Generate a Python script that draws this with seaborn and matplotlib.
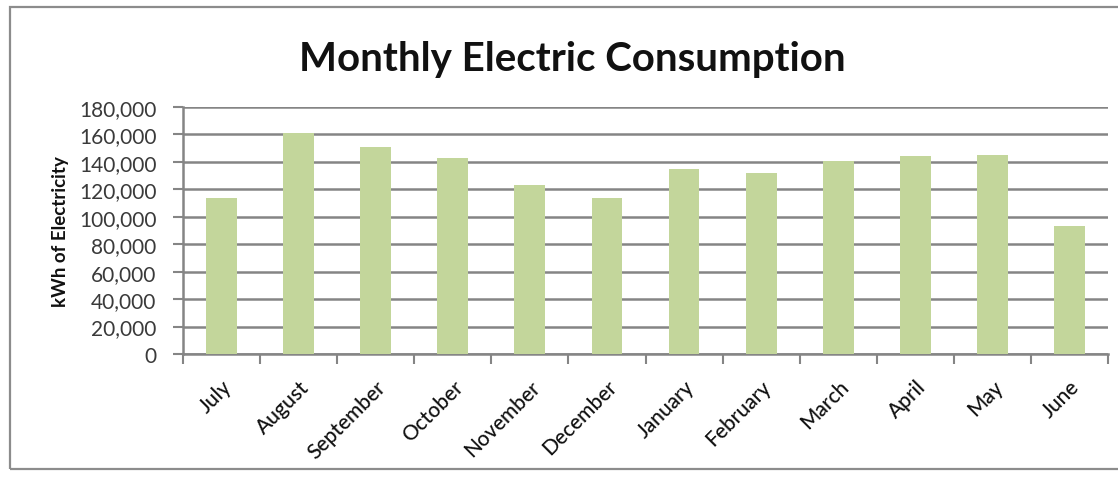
import matplotlib
matplotlib.use("Agg")
import matplotlib.pyplot as plt
from matplotlib.patches import Rectangle
from matplotlib.ticker import FuncFormatter, FixedLocator
import seaborn as sns
import pandas as pd

months = ["July", "August", "September", "October", "November", "December",
          "January", "February", "March", "April", "May", "June"]
kwh = [113700, 160800, 151100, 142800, 123400, 113700,
       135000, 132100, 140400, 144500, 145200, 93500]
y_ticks = [0, 20000, 40000, 60000, 80000, 100000, 120000, 140000, 160000, 180000]

df = pd.DataFrame({"month": months, "kwh": kwh})

sns.set_theme(style="white")
plt.rcParams["font.family"] = ["Lato", "DejaVu Sans"]

fig = plt.figure(figsize=(11.18, 4.81), dpi=100)
ax = fig.add_axes([183 / 1118, 1 - 355 / 481, (1108 - 183) / 1118, (355 - 108) / 481])

sns.barplot(data=df, x="month", y="kwh", color="#c3d69b", saturation=1,
            width=0.4, linewidth=0, ax=ax, zorder=3)

ax.set_ylim(0, 180000)
ax.set_xlim(-0.5, len(months) - 0.5)
ax.yaxis.set_major_locator(FixedLocator(y_ticks))
ax.yaxis.set_major_formatter(FuncFormatter(lambda v, p: f"{int(v):,}"))
ax.grid(axis="y", color="#858585", linewidth=1.8, zorder=0)
ax.set_axisbelow(True)

for side in ["top", "right"]:
    ax.spines[side].set_visible(False)
for side in ["left", "bottom"]:
    ax.spines[side].set_color("#858585")
    ax.spines[side].set_linewidth(1.8)

# category separators as minor ticks on the x axis
ax.xaxis.set_minor_locator(FixedLocator([i - 0.5 for i in range(len(months) + 1)]))
ax.tick_params(axis="x", which="minor", bottom=True, length=7, width=1.5, color="#858585")
ax.tick_params(axis="x", which="major", bottom=False, pad=10)
ax.tick_params(axis="y", which="major", left=True, length=7, width=1.5,
               color="#858585", labelsize=15, labelcolor="#3a3a3a", pad=12)

ax.set_xticks(range(len(months)))
ax.set_xticklabels(months, rotation=45, ha="right", rotation_mode="anchor",
                   fontsize=15, color="#111111", fontweight="medium")
ax.set_xlabel("")
ax.set_ylabel("kWh of Electricity", fontsize=13.5, fontweight="bold", color="#111111", labelpad=7)

fig.text(572 / 1118, 1 - 60 / 481, "Monthly Electric Consumption", ha="center", va="center",
         fontsize=29, fontweight="bold", color="#111111")

# chart area border
fig.patches.append(Rectangle((10 / 1118, 1 - 470 / 481), 1.2, 462 / 481,
                             transform=fig.transFigure, fill=False,
                             edgecolor="#8c8c8c", linewidth=1.6, zorder=0))

fig.savefig("out.png", dpi=100, facecolor="white")
